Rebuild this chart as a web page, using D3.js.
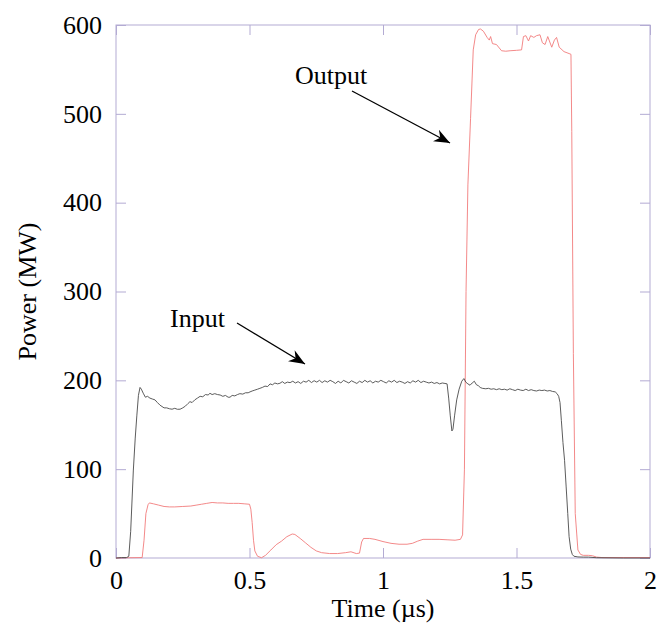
<!DOCTYPE html>
<html>
<head>
<meta charset="utf-8">
<script src="https://cdn.jsdelivr.net/npm/d3@7"></script>
<style>
  html, body { margin: 0; padding: 0; background: #fff; }
  svg { display: block; }
  text { font-family: "Liberation Serif", "Times New Roman", serif; fill: #000; }
</style>
</head>
<body>
<svg id="chart" width="668" height="627"></svg>
<script>
// ---- data ----
const xTicks = [0, 0.5, 1, 1.5, 2];
const xTickLabels = ["0", "0.5", "1", "1.5", "2"];
const yTicks = [0, 100, 200, 300, 400, 500, 600];

const inputTime = [0, 0.02, 0.04, 0.048, 0.055, 0.065, 0.072, 0.078, 0.084, 0.09, 0.095, 0.102, 0.11, 0.118, 0.127, 0.136, 0.146, 0.155, 0.165, 0.18, 0.19, 0.2, 0.21, 0.22, 0.23, 0.24, 0.25, 0.26, 0.27, 0.277, 0.285, 0.295, 0.305, 0.315, 0.325, 0.335, 0.345, 0.352, 0.36, 0.37, 0.38, 0.39, 0.4, 0.41, 0.42, 0.427, 0.435, 0.445, 0.455, 0.464, 0.475, 0.485, 0.495, 0.502, 0.51, 0.52, 0.53, 0.539, 0.548, 0.558, 0.568, 0.577, 0.586, 0.595, 0.605, 0.614, 0.623, 0.632, 0.642, 0.652, 0.662, 0.672, 0.682, 0.692, 0.702, 0.712, 0.722, 0.732, 0.742, 0.752, 0.762, 0.772, 0.782, 0.792, 0.802, 0.812, 0.822, 0.832, 0.842, 0.852, 0.862, 0.872, 0.882, 0.892, 0.902, 0.912, 0.922, 0.932, 0.942, 0.952, 0.962, 0.972, 0.982, 0.992, 1.002, 1.012, 1.022, 1.032, 1.042, 1.052, 1.062, 1.072, 1.082, 1.092, 1.102, 1.112, 1.122, 1.132, 1.142, 1.152, 1.162, 1.172, 1.182, 1.192, 1.202, 1.212, 1.222, 1.232, 1.24, 1.246, 1.252, 1.258, 1.262, 1.268, 1.276, 1.285, 1.295, 1.303, 1.31, 1.318, 1.326, 1.334, 1.342, 1.35, 1.357, 1.364, 1.372, 1.385, 1.395, 1.405, 1.415, 1.425, 1.435, 1.445, 1.455, 1.465, 1.475, 1.485, 1.495, 1.505, 1.515, 1.525, 1.535, 1.545, 1.555, 1.565, 1.575, 1.585, 1.595, 1.605, 1.615, 1.625, 1.635, 1.645, 1.652, 1.658, 1.663, 1.668, 1.674, 1.68, 1.686, 1.692, 1.697, 1.703, 1.709, 1.715, 1.73, 1.75, 1.77, 1.8, 1.9, 2.0];
const inputPower = [0, 0.5, 0.5, 2, 30, 99, 135, 160, 183, 192, 190, 185.5, 181, 182, 180, 179, 178, 175, 172, 169, 169, 168, 167.5, 168.5, 167.4, 167.5, 169, 171, 174, 176, 175, 178, 180, 182, 181.5, 184, 183.5, 185.4, 184, 185, 184, 183.5, 182, 183, 181, 181, 183, 182.5, 184, 185, 184.5, 186, 186, 187, 188, 189, 190, 191, 192, 193.5, 193, 196, 195, 197, 196, 196.7, 198.5, 196.5, 198, 197.4, 199, 197, 198.5, 196.5, 199, 198, 200, 197.5, 199.6, 198, 200, 197.5, 199.5, 198, 200, 198.5, 196.5, 199, 197, 200, 198.5, 197, 199.5, 198, 196.5, 199, 197.5, 200, 198, 199.5, 197, 199, 198, 200, 198.5, 197, 199.5, 198, 200, 197.5, 199, 198, 196.5, 198.5, 197, 199.5, 198, 200, 197.5, 199, 198, 197, 198, 196.5, 197.5, 196, 197, 196.5, 196, 180, 160, 143, 145, 160, 178, 190, 199, 202, 198, 196, 194.5, 197, 199, 195, 194, 192, 191, 190.5, 191, 190, 190.5, 189.5, 190.5, 189.5, 190, 189, 190.5, 189.5, 188.5, 190, 189, 188.5, 190, 188.5, 189.5, 188.5, 188, 189, 188.5, 189, 188, 188.5, 187.5, 187, 185, 182, 175, 155, 130, 110, 80, 50, 24, 10, 4, 2, 1.2, 1, 1, 0.3, 0, 0];

const outputTime = [0, 0.05, 0.098, 0.105, 0.112, 0.12, 0.125, 0.14, 0.16, 0.18, 0.2, 0.22, 0.25, 0.28, 0.3, 0.32, 0.34, 0.36, 0.38, 0.4, 0.42, 0.44, 0.46, 0.48, 0.5, 0.505, 0.51, 0.515, 0.52, 0.53, 0.545, 0.56, 0.58, 0.6, 0.62, 0.64, 0.66, 0.67, 0.69, 0.71, 0.73, 0.75, 0.77, 0.8, 0.83, 0.86, 0.88, 0.9, 0.912, 0.92, 0.927, 0.95, 0.97, 1.0, 1.03, 1.06, 1.09, 1.11, 1.13, 1.15, 1.18, 1.21, 1.24, 1.27, 1.29, 1.298, 1.305, 1.311, 1.318, 1.328, 1.338, 1.347, 1.358, 1.365, 1.376, 1.39, 1.398, 1.403, 1.41, 1.425, 1.444, 1.46, 1.476, 1.5, 1.519, 1.526, 1.535, 1.545, 1.553, 1.565, 1.575, 1.588, 1.597, 1.607, 1.617, 1.632, 1.642, 1.65, 1.66, 1.678, 1.7, 1.704, 1.707, 1.713, 1.72, 1.73, 1.74, 1.75, 1.77, 1.785, 1.8, 1.82, 2.0];
const outputPower = [0, 0.3, 0.5, 20, 50, 60, 62, 61, 59.5, 58, 57.5, 57.5, 58, 58.5, 59.5, 60.5, 61.5, 62.5, 62, 62, 61.5, 61.5, 61.5, 61, 60.5, 55, 40, 20, 8, 2, 0.3, 3, 9, 15, 19, 24, 27, 26.5, 22, 17, 12, 8, 6, 5, 5, 6, 7, 5, 5.5, 18, 22, 22, 21, 18.5, 16.5, 15.5, 15.5, 16.5, 19, 21, 21, 21, 20.5, 20, 21, 26, 100, 300, 420, 495, 572, 589, 595, 595.5, 593, 586, 583, 587, 579, 578, 571, 570.5, 571, 571.5, 572, 587, 588, 582, 588, 586, 588, 589, 580, 578, 587, 575, 583, 586, 575, 570, 567.5, 567, 480, 230, 50, 9, 4, 3, 3, 2.5, 1, 0.5, 0.5];

// ---- layout ----
const svg = d3.select("#chart");
const mLeft = 116, mRight = 650, mTop = 25, mBottom = 558;
const x = d3.scaleLinear().domain([0, 2]).range([mLeft, mRight]);
const y = d3.scaleLinear().domain([0, 600]).range([mBottom, mTop]);
const axisColor = "#b3abd3";
const tickLen = 10;

// frame
svg.append("rect")
  .attr("x", mLeft).attr("y", mTop)
  .attr("width", mRight - mLeft).attr("height", mBottom - mTop)
  .attr("fill", "none").attr("stroke", axisColor).attr("stroke-width", 1);

// axes via d3 (inward ticks)
const styleAxis = g => {
  g.select(".domain").remove();
  g.selectAll(".tick line").attr("stroke", axisColor);
};
svg.append("g").attr("transform", `translate(0,${mBottom})`)
  .call(d3.axisBottom(x).tickValues(xTicks).tickSizeInner(-tickLen).tickSizeOuter(0)
    .tickFormat((d, i) => xTickLabels[i]).tickPadding(13))
  .call(styleAxis)
  .call(g => g.selectAll("text").attr("font-size", 26).attr("fill", "#000"));
svg.append("g").attr("transform", `translate(0,${mTop})`)
  .call(d3.axisTop(x).tickValues(xTicks).tickSizeInner(-tickLen).tickSizeOuter(0).tickFormat(""))
  .call(styleAxis);
svg.append("g").attr("transform", `translate(${mLeft},0)`)
  .call(d3.axisLeft(y).tickValues(yTicks).tickSizeInner(-tickLen).tickSizeOuter(0).tickPadding(14))
  .call(styleAxis)
  .call(g => g.selectAll("text").attr("font-size", 26).attr("fill", "#000"));
svg.append("g").attr("transform", `translate(${mRight},0)`)
  .call(d3.axisRight(y).tickValues(yTicks).tickSizeInner(-tickLen).tickSizeOuter(0).tickFormat(""))
  .call(styleAxis);

// lines
const line = d3.line().x(d => x(d[0])).y(d => y(d[1]));
const inputData = inputTime.map((t, i) => [t, inputPower[i]]);
const outputData = outputTime.map((t, i) => [t, outputPower[i]]);

svg.append("path").datum(outputData)
  .attr("d", line).attr("fill", "none")
  .attr("stroke", "#f27c7c").attr("stroke-width", 0.9);
svg.append("path").datum(inputData)
  .attr("d", line).attr("fill", "none")
  .attr("stroke", "#4a4a4a").attr("stroke-width", 0.9);

// axis titles
svg.append("text").attr("x", (mLeft + mRight) / 2).attr("y", 617)
  .attr("text-anchor", "middle").attr("font-size", 26).text("Time (µs)");
svg.append("text").attr("transform", `translate(36,${(mTop + mBottom) / 2}) rotate(-90)`)
  .attr("text-anchor", "middle").attr("font-size", 26).text("Power (MW)");

// annotations
const defs = svg.append("defs");
defs.append("marker").attr("id", "arrow")
  .attr("viewBox", "-16 -7 17 14").attr("refX", 0).attr("refY", 0)
  .attr("markerWidth", 17).attr("markerHeight", 14)
  .attr("markerUnits", "userSpaceOnUse").attr("orient", "auto")
  .append("path").attr("d", "M0,0 L-16,-6.5 L-11,0 L-16,6.5 Z").attr("fill", "#000");

svg.append("text").attr("x", 295).attr("y", 84).attr("font-size", 26).text("Output");
svg.append("line").attr("x1", 352).attr("y1", 91).attr("x2", 450).attr("y2", 143)
  .attr("stroke", "#000").attr("stroke-width", 1.3).attr("marker-end", "url(#arrow)");

svg.append("text").attr("x", 170).attr("y", 327).attr("font-size", 26).text("Input");
svg.append("line").attr("x1", 237).attr("y1", 323).attr("x2", 305).attr("y2", 364)
  .attr("stroke", "#000").attr("stroke-width", 1.3).attr("marker-end", "url(#arrow)");
</script>
</body>
</html>
